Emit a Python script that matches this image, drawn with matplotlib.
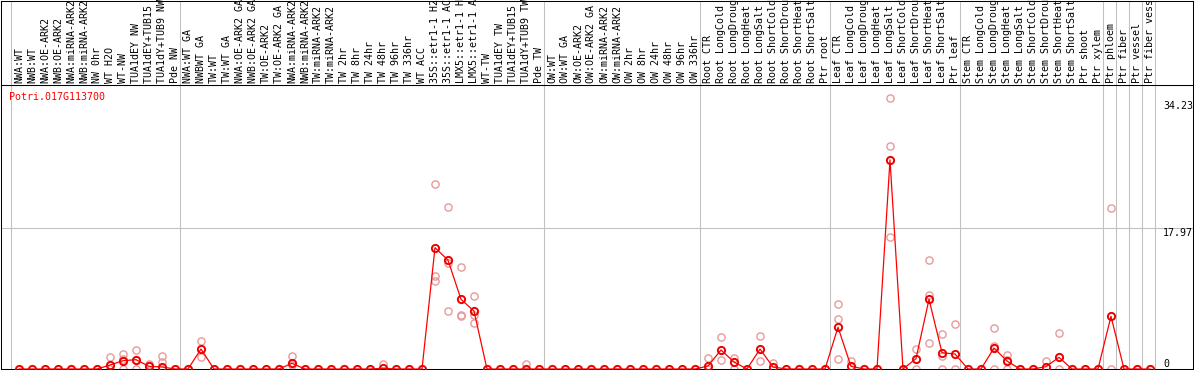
import numpy as np
import matplotlib
matplotlib.use("Agg")
import matplotlib.pyplot as plt

# sample labels, one column each
nw_labels = ["NWA:WT", "NWB:WT", "NWA:OE-ARK2", "NWB:OE-ARK2", "NWA:miRNA-ARK2",
             "NWB:miRNA-ARK2", "NW 0hr", "WT H2O", "WT-NW", "TUA1dEY NW",
             "TUA1dEY+TUB15 NW", "TUA1dY+TUB9 NW", "Pde NW"]
tw_labels = ["NWA:WT GA", "NWBWT GA", "TW:WT", "TW:WT GA", "NWA:OE-ARK2 GA",
             "NWB:OE-ARK2 GA", "TW:OE-ARK2", "TW:OE-ARK2 GA", "NWA:miRNA-ARK2",
             "NWB:miRNA-ARK2", "TW:miRNA-ARK2", "TW:miRNA-ARK2", "TW 2hr", "TW 8hr",
             "TW 24hr", "TW 48hr", "TW 96hr", "TW 336hr", "WT ACC",
             "35S::etr1-1 H2O", "35S::etr1-1 ACC", "LMX5::etr1-1 H2O",
             "LMX5::etr1-1 ACC", "WT-TW", "TUA1dEY TW", "TUA1dEY+TUB15 TW",
             "TUA1dY+TUB9 TW", "Pde TW"]
ow_labels = ["OW:WT", "OW:WT GA", "OW:OE-ARK2", "OW:OE-ARK2 GA", "OW:miRNA-ARK2",
             "OW:miRNA-ARK2", "OW 2hr", "OW 8hr", "OW 24hr", "OW 48hr", "OW 96hr",
             "OW 336hr"]
root_labels = ["Root CTR", "Root LongCold", "Root LongDrought", "Root LongHeat",
               "Root LongSalt", "Root ShortCold", "Root ShortDrought",
               "Root ShortHeat", "Root ShortSalt", "Ptr root"]
leaf_labels = ["Leaf CTR", "Leaf LongCold", "Leaf LongDrought", "Leaf LongHeat",
               "Leaf LongSalt", "Leaf ShortCold", "Leaf ShortDrought",
               "Leaf ShortHeat", "Leaf ShortSalt", "Ptr leaf"]
stem_labels = ["Stem CTR", "Stem LongCold", "Stem LongDrought", "Stem LongHeat",
               "Stem LongSalt", "Stem ShortCold", "Stem ShortDrought",
               "Stem ShortHeat", "Stem ShortSalt", "Ptr shoot", "Ptr xylem"]

groups = [nw_labels, tw_labels, ow_labels, root_labels, leaf_labels, stem_labels,
          ["Ptr phloem"], ["Ptr fiber"], ["Ptr vessel"], ["Ptr fiber vessel"]]
labels = [l for g in groups for l in g]

# mean expression per sample
mean_vals = [0, 0, 0, 0, 0, 0, 0, 0.51, 1.06, 1.19, 0.34, 0.26, 0,
             0, 2.55, 0, 0, 0, 0, 0, 0, 0.73, 0, 0, 0, 0, 0, 0, 0.09, 0, 0, 0,
             15.5, 13.9, 8.9, 7.4, 0, 0, 0, 0, 0,
             0, 0, 0, 0, 0, 0, 0, 0, 0, 0, 0, 0,
             0.38, 2.43, 0.89, 0, 2.55, 0.26, 0, 0, 0, 0,
             5.33, 0.34, 0, 0, 26.7, 0, 1.32, 8.9, 2.08, 1.92,
             0, 0, 2.68, 1.02, 0, 0, 0.3, 1.49, 0, 0, 0,
             6.73, 0, 0, 0]

# individual replicates (sample index, value)
rep_idx = [7, 7, 8, 8, 8, 9, 9, 9, 10, 10, 11, 11, 14, 14, 21, 21, 28,
           32, 32, 32, 33, 33, 33, 34, 34, 34, 35, 35, 35, 39,
           53, 53, 54, 54, 55, 55, 57, 57, 58,
           63, 63, 63, 64, 67, 67, 67, 69, 69, 70, 70, 70, 71, 71, 71, 72, 72,
           75, 75, 75, 76, 76, 76, 79, 80, 80, 84, 84]
rep_vals = [1.49, 0, 1.88, 1.3, 0, 2.39, 1.2, 0, 0.64, 0.4, 1.64, 0.93, 3.58, 1.49,
            1.66, 0.5, 0.6,
            23.6, 11.9, 11.2, 20.7, 13.5, 7.4, 13.0, 6.9, 6.8, 9.3, 6.9, 5.9, 0.64,
            1.37, 0, 4.05, 1.15, 1.37, 0, 4.18, 1.02, 0.73,
            8.26, 6.35, 1.28, 1.06, 34.6, 28.5, 16.9, 2.55, 0, 13.9, 9.45, 3.28,
            4.43, 1.66, 0, 5.71, 0,
            5.2, 2.98, 0, 1.79, 1.2, 0, 1.02, 4.56, 0, 20.5, 0]

gene = "Potri.017G113700"
axis_marks = [34.23, 17.97, 0]

W, H = 1194, 370
X0, DX = 19, 13          # pixel of first column, column step
PX_PER_UNIT = 7.83
BASE, HEAD = 369, 85     # pixel rows of zero line and header bottom

plt.rcParams["font.family"] = ["DejaVu Sans Mono"]
FS = 7.2
GRID = "#c0c0c0"

fig = plt.figure(figsize=(W / 100, H / 100), dpi=100)
ax = fig.add_axes([1 / W, (H - BASE) / H, 1192 / W, (BASE - HEAD) / H])
hx = fig.add_axes([1 / W, (H - HEAD) / H, 1192 / W, (HEAD - 0.5) / H])

xlim = ((1 - X0) / DX, (1193 - X0) / DX)
for a in (ax, hx):
    a.set_xlim(*xlim)
    a.set_xticks([])
    a.set_yticks([])
    for s in a.spines.values():
        s.set_linewidth(0.75)
        s.set_color("black")
ax.set_ylim(0, (BASE - HEAD) / PX_PER_UNIT)
hx.set_ylim(0, 1)

# group separators
bounds = np.cumsum([0] + [len(g) for g in groups])
for b in bounds:
    ax.axvline(b - 0.6, color=GRID, lw=0.75, zorder=0)
    hx.axvline(b - 0.6, color=GRID, lw=0.75, zorder=0)
ax.axhline(axis_marks[1], color=GRID, lw=0.75, zorder=0)

# header labels
for i, lab in enumerate(labels):
    hx.text(i, 2 / (HEAD - 0.5), lab, rotation=90, ha="center", va="bottom",
            fontsize=FS, transform=hx.get_xaxis_transform())

x = np.arange(len(labels))
ax.plot(rep_idx, rep_vals, ls="none", marker="o", ms=5.2, mfc="none",
        mec="#e89a9a", mew=1.0, clip_on=False, zorder=2)
ax.plot(x, mean_vals, color="#ff0000", lw=0.9, zorder=3, clip_on=False)
ax.plot(x, mean_vals, ls="none", marker="o", ms=5.2, mfc="none",
        mec="#ee0000", mew=1.4, clip_on=False, zorder=4)

# right side value labels
lab_x = (1163 - X0) / DX
ax.text(lab_x, axis_marks[0], "34.23", ha="left", va="top", fontsize=FS)
ax.text(lab_x, axis_marks[1], "17.97", ha="left", va="top", fontsize=FS)
ax.text(lab_x, axis_marks[2], "0", ha="left", va="bottom", fontsize=FS)

ax.text(8 / 1192, (BASE - 92) / (BASE - HEAD), gene, color="#ff0000",
        ha="left", va="top", fontsize=FS, transform=ax.transAxes)

fig.savefig("out.png", dpi=100)
